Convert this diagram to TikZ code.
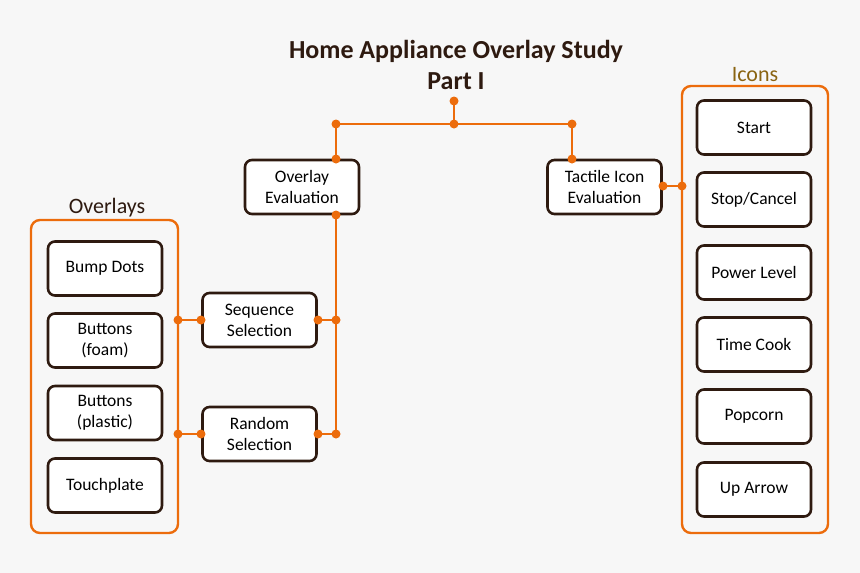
\documentclass[tikz,border=0pt]{standalone}
\usepackage{fontspec}
\setmainfont{Carlito}
\definecolor{bg}{HTML}{F7F7F7}
\definecolor{org}{HTML}{EC6C0C}
\definecolor{brn}{HTML}{2E1A10}
\definecolor{gold}{HTML}{8A6412}
\begin{document}
\begin{tikzpicture}[x=1pt,y=-1pt,
  box/.style={draw=brn,line width=2.6pt,fill=white,rounded corners=7pt,minimum width=114pt,minimum height=54pt,align=center,font=\fontsize{17.5}{21}\selectfont,text=black,inner sep=0pt},
  cont/.style={draw=org,line width=2.4pt,rounded corners=9pt},
  wire/.style={draw=org,line width=2.8pt},
  dot/.style={circle,fill=org,inner sep=0pt,minimum size=9pt}]
\fill[bg] (0,0) rectangle (860,573);
\useasboundingbox (0,0) rectangle (860,573);
\node[font=\fontsize{26}{31}\selectfont\bfseries,text=brn,align=center] (title) at (456,65) {Home Appliance Overlay Study\\Part I};
% containers
\draw[cont] (31,220) rectangle (178,533);
\draw[cont] (682,86) rectangle (828,533);
\node[font=\fontsize{22}{24}\selectfont,text=brn] (ovl) at (107,208) {Overlays};
\node[font=\fontsize{22}{24}\selectfont,text=gold] (icl) at (755,75) {Icons};
% main boxes
\node[box] (oe) at (302,187) {Overlay\\Evaluation};
\node[box] (te) at (604.5,187) {Tactile Icon\\Evaluation};
\node[box] (ss) at (259.5,320) {Sequence\\Selection};
\node[box] (rs) at (259.5,434) {Random\\Selection};
% left boxes
\node[box] (b1) at (105,268.5) {Bump Dots};
\node[box] (b2) at (105,340.5) {Buttons\\(foam)};
\node[box] (b3) at (105,413) {Buttons\\(plastic)};
\node[box] (b4) at (105,485.5) {Touchplate};
% right boxes
\node[box] (i1) at (754,127.5) {Start};
\node[box] (i2) at (754,199.5) {Stop/Cancel};
\node[box] (i3) at (754,272.5) {Power Level};
\node[box] (i4) at (754,344.5) {Time Cook};
\node[box] (i5) at (754,416.5) {Popcorn};
\node[box] (i6) at (754,489.5) {Up Arrow};
% coordinates
\coordinate (top) at (454,101);
\coordinate (jt) at (454,124);
\coordinate (jl) at (336,124);
\coordinate (jr) at (572,124);
\coordinate (oet) at (336,159);
\coordinate (tet) at (572,159);
\coordinate (oeb) at (336,215);
\coordinate (vs) at (336,320);
\coordinate (vr) at (336,434);
\coordinate (sse) at (318,320);
\coordinate (rse) at (318,434);
\coordinate (ssw) at (201,320);
\coordinate (rsw) at (201,434);
\coordinate (cs) at (178,320);
\coordinate (cr) at (178,434);
\coordinate (tee) at (663,186);
\coordinate (ci) at (682,186);
% wires
\draw[wire] (top) -- (jt);
\draw[wire] (oet) -- (jl) -- (jr) -- (tet);
\draw[wire] (oeb) -- (vr);
\draw[wire] (sse) -- (vs);
\draw[wire] (rse) -- (vr);
\draw[wire] (cs) -- (ssw);
\draw[wire] (cr) -- (rsw);
\draw[wire] (tee) -- (ci);
% dots
\foreach \p in {top,jt,jl,jr,oet,tet,oeb,vs,vr,sse,rse,ssw,rsw,cs,cr,tee,ci}
  \node[dot] at (\p) {};
\end{tikzpicture}
\end{document}
